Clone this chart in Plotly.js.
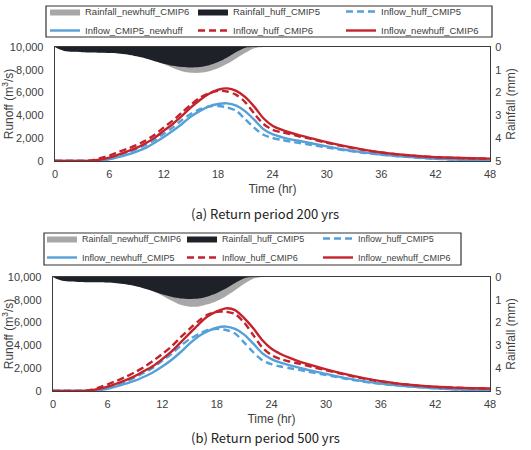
<!DOCTYPE html>
<html>
<head>
<meta charset="utf-8">
<script src="https://cdn.plot.ly/plotly-3.0.1.min.js"></script>
<style>html,body{margin:0;padding:0;background:#fff;}#chart{width:531px;height:450px;}</style>
</head>
<body>
<div id="chart"></div>
<script>
// ---------- data ----------
const flowHours = [0,1,2,3,4,5,6,7,8,9,10,11,12,13,14,15,16,17,18,19,20,21,22,23,24,25,26,27,28,30,32,34,36,38,40,42,44,46,48];
const rainHours = [0,0.5,1,2,3,4,5,6,7,8,9,10,11,12,13,14,15,16,17,18,19,20,21,22,23,24,48];
const xTicks = [0,6,12,18,24,30,36,42,48];
const runoffTicks = [0,2000,4000,6000,8000,10000];
const rainTicks = [0,1,2,3,4,5];

// (a) Return period 200 yrs
const a_rain_newhuff_CMIP6 = [0,0.08,0.14,0.19,0.21,0.22,0.23,0.24,0.26,0.3,0.38,0.47,0.6,0.75,0.92,1.06,1.13,1.13,1.06,0.93,0.74,0.5,0.25,0.05,0,0,0];
const a_rain_huff_CMIP5    = [0,0.1,0.17,0.21,0.23,0.24,0.25,0.26,0.28,0.33,0.41,0.5,0.62,0.73,0.82,0.88,0.9,0.88,0.8,0.66,0.46,0.22,0.03,0,0,0,0];
const a_inflow_huff_CMIP5    = [0,0,0,0,0,100,250,480,760,1050,1400,1850,2400,2950,3600,4150,4550,4780,4820,4700,4400,3650,2900,2300,2020,1850,1700,1580,1450,1180,930,720,550,410,290,190,125,80,50];
const a_inflow_newhuff_CMIP5 = [0,0,0,0,0,40,150,340,560,820,1150,1600,2100,2650,3250,3900,4400,4800,5000,5060,4850,4350,3600,2800,2350,2100,1900,1750,1600,1280,990,760,570,420,300,200,130,80,50];
const a_inflow_huff_CMIP6    = [0,0,0,0,60,250,480,780,1080,1400,1800,2300,2950,3550,4250,4950,5550,5950,6150,6100,5800,5150,4150,3250,2750,2520,2350,2150,1980,1600,1260,970,740,560,430,330,270,230,200];
const a_inflow_newhuff_CMIP6 = [0,0,0,0,30,130,300,550,850,1150,1550,2050,2650,3250,3950,4700,5350,5900,6250,6370,6150,5600,4750,3750,3100,2750,2480,2250,2050,1650,1300,1000,760,580,440,340,280,240,210];

// (b) Return period 500 yrs
const b_rain_newhuff_CMIP6 = [0,0.08,0.13,0.18,0.2,0.21,0.22,0.23,0.25,0.3,0.38,0.48,0.63,0.82,1.03,1.22,1.3,1.29,1.2,1.05,0.84,0.58,0.3,0.08,0,0,0];
const b_rain_huff_CMIP5    = [0,0.1,0.16,0.2,0.22,0.23,0.23,0.24,0.27,0.32,0.4,0.5,0.62,0.76,0.87,0.94,0.96,0.94,0.85,0.7,0.5,0.26,0.05,0,0,0,0];
const b_inflow_huff_CMIP5    = [0,0,0,0,0,120,300,550,850,1200,1600,2050,2650,3250,3950,4550,5000,5350,5450,5350,5050,4250,3400,2700,2350,2150,2000,1850,1700,1400,1100,840,630,470,340,230,150,100,60];
const b_inflow_newhuff_CMIP5 = [0,0,0,0,0,60,200,400,650,900,1250,1650,2150,2720,3400,4150,4800,5250,5550,5650,5450,4950,4150,3300,2800,2480,2250,2050,1850,1500,1150,870,650,480,350,240,160,100,60];
const b_inflow_huff_CMIP6    = [0,0,0,0,80,300,580,900,1250,1650,2100,2650,3250,3900,4700,5450,6150,6700,6950,6950,6750,6000,4900,3800,3150,2800,2580,2400,2200,1820,1450,1110,840,630,470,360,290,240,210];
const b_inflow_newhuff_CMIP6 = [0,0,0,0,40,180,380,650,950,1300,1750,2200,2800,3450,4250,5050,5850,6550,6980,7250,7100,6400,5500,4450,3700,3250,2900,2600,2350,1900,1500,1150,870,650,490,370,300,250,220];

const names_a = ['Rainfall_newhuff_CMIP6','Rainfall_huff_CMIP5','Inflow_huff_CMIP5','Inflow_CMIP5_newhuff','Inflow_huff_CMIP6','Inflow_newhuff_CMIP6'];
const names_b = ['Rainfall_newhuff_CMIP6','Rainfall_huff_CMIP5','Inflow_huff_CMIP5','Inflow_newhuff_CMIP5','Inflow_huff_CMIP6','Inflow_newhuff_CMIP6'];

// ---------- styling ----------
const GRAY = '#a7a7a7', BLACK = '#1e2128', BLUE = '#55a0d8', RED = '#c4232b';
const DASH = '7px,4px';
const LW = 2.4;

// legends: one per column (col1, col2, col3)
function panel(xa, yL, yR, lg, names, rainNew, rainOld, f1, f2, f3, f4) {
  const sp = {shape:'spline', smoothing:0.8};
  return [
    {x: rainHours, y: rainNew, name: names[0], legend: lg[0], type:'scatter', mode:'lines', xaxis: xa, yaxis: yR,
      fill:'tozeroy', fillcolor: GRAY, line:Object.assign({width:0, color: GRAY}, sp), hoverinfo:'skip'},
    {x: rainHours, y: rainOld, name: names[1], legend: lg[1], type:'scatter', mode:'lines', xaxis: xa, yaxis: yR,
      fill:'tozeroy', fillcolor: BLACK, line:Object.assign({width:0, color: BLACK}, sp), hoverinfo:'skip'},
    {x: flowHours, y: f1, name: names[2], legend: lg[2], type:'scatter', mode:'lines', xaxis: xa, yaxis: yL,
      line:Object.assign({color: BLUE, width: LW, dash: DASH}, sp), hoverinfo:'skip'},
    {x: flowHours, y: f2, name: names[3], legend: lg[0], type:'scatter', mode:'lines', xaxis: xa, yaxis: yL,
      line:Object.assign({color: BLUE, width: LW}, sp), hoverinfo:'skip'},
    {x: flowHours, y: f3, name: names[4], legend: lg[1], type:'scatter', mode:'lines', xaxis: xa, yaxis: yL,
      line:Object.assign({color: RED, width: LW, dash: DASH}, sp), hoverinfo:'skip'},
    {x: flowHours, y: f4, name: names[5], legend: lg[2], type:'scatter', mode:'lines', xaxis: xa, yaxis: yL,
      line:Object.assign({color: RED, width: LW}, sp), hoverinfo:'skip'}
  ];
}

const data = [].concat(
  panel('x','y','y2',['legend','legend2','legend3'], names_a, a_rain_newhuff_CMIP6, a_rain_huff_CMIP5,
        a_inflow_huff_CMIP5, a_inflow_newhuff_CMIP5, a_inflow_huff_CMIP6, a_inflow_newhuff_CMIP6),
  panel('x2','y3','y4',['legend4','legend5','legend6'], names_b, b_rain_newhuff_CMIP6, b_rain_huff_CMIP5,
        b_inflow_huff_CMIP5, b_inflow_newhuff_CMIP5, b_inflow_huff_CMIP6, b_inflow_newhuff_CMIP6)
);

const W = 531, H = 450, MT = 14;
const px = p => p / W;                    // pixel x -> paper
const py = p => 1 - (p - MT) / (H - MT);  // pixel y -> paper (top margin MT)
const FONT = 'Liberation Sans, Arial, sans-serif';
const TXT = '#404040';
const FRAME = '#3c3c3c';

function xAxis(dom, anchor) {
  return {domain: dom, anchor: anchor, range:[0,48], tickvals: xTicks, ticktext: xTicks.map(String),
    showgrid:false, zeroline:false, showline:true, mirror:true, linecolor: FRAME, linewidth:1.3,
    ticks:'outside', ticklen:2, tickcolor:'rgba(0,0,0,0)',
    tickfont:{family: FONT, size:11, color: TXT},
    title:{text:'Time (hr)', font:{family: FONT, size:12, color: TXT}, standoff:6}, automargin:false, fixedrange:true};
}
function yLeft(dom, anchor) {
  return {domain: dom, anchor: anchor, range:[0,10000], tickvals: runoffTicks, tickformat:',d',
    showgrid:false, zeroline:false, showline:true, mirror:true, linecolor: FRAME, linewidth:1.3,
    ticks:'outside', ticklen:8, tickcolor:'rgba(0,0,0,0)',
    tickfont:{family: FONT, size:11, color: TXT},
    title:{text:'Runoff (m<sup>3</sup>/s)', font:{family: FONT, size:12, color: TXT}, standoff:2}, automargin:false, fixedrange:true};
}
function yRight(dom, anchor, over) {
  return {domain: dom, anchor: anchor, overlaying: over, side:'right', range:[5,0], tickvals: rainTicks,
    showgrid:false, zeroline:false, showline:false,
    ticks:'outside', ticklen:2, tickcolor:'rgba(0,0,0,0)',
    tickfont:{family: FONT, size:11, color: TXT},
    title:{text:'Rainfall (mm)', font:{family: FONT, size:12, color: TXT}, standoff:6}, automargin:false, fixedrange:true};
}

function legendCfg(xpx, ypx, fs) {
  return {orientation:'v', x: px(xpx), y: py(ypx), xanchor:'left', yanchor:'top', xref:'paper', yref:'paper',
    bgcolor:'rgba(0,0,0,0)', borderwidth:0,
    font:{family: FONT, size:fs, color: TXT},
    itemwidth:30, traceorder:'normal', tracegroupgap:0, itemclick:false, itemdoubleclick:false};
}

const layout = {
  width: W, height: H,
  margin:{l:0, r:0, t:MT, b:0, autoexpand:false},
  paper_bgcolor:'#ffffff', plot_bgcolor:'#ffffff',
  showlegend: true,
  xaxis: xAxis([px(55), px(490)], 'y'),
  yaxis: yLeft([py(161), py(47)], 'x'),
  yaxis2: yRight([py(161), py(47)], 'x', 'y'),
  xaxis2: xAxis([px(53), px(490)], 'y3'),
  yaxis3: yLeft([py(391), py(277)], 'x2'),
  yaxis4: yRight([py(391), py(277)], 'x2', 'y3'),
  legend:  legendCfg(45, -3, 9.5),
  legend2: legendCfg(193, -3, 9.5),
  legend3: legendCfg(341, -3, 9.5),
  legend4: legendCfg(42, 224, 9),
  legend5: legendCfg(182, 224, 9),
  legend6: legendCfg(318, 224, 9),
  shapes: [
    {type:'rect', xref:'paper', yref:'paper', x0:px(46), x1:px(492), y0:py(6), y1:py(37),
     line:{color:'#333333', width:1.2}, fillcolor:'rgba(255,255,255,0)', layer:'above'},
    {type:'rect', xref:'paper', yref:'paper', x0:px(44), x1:px(461), y0:py(233), y1:py(265),
     line:{color:'#333333', width:1.2}, fillcolor:'rgba(255,255,255,0)', layer:'above'}
  ],
  annotations: [
    {text:'(a) Return period 200 yrs', xref:'paper', yref:'paper', x:px(265), y:py(213),
     xanchor:'center', yanchor:'middle', showarrow:false, font:{family:'Noto Sans CJK KR, sans-serif', size:13, color:'#222'}},
    {text:'(b) Return period 500 yrs', xref:'paper', yref:'paper', x:px(265), y:py(449),
     xanchor:'center', yanchor:'bottom', showarrow:false, font:{family:'Noto Sans CJK KR, sans-serif', size:13, color:'#222'}}
  ]
};

Plotly.newPlot('chart', data, layout, {staticPlot:true, displayModeBar:false});
</script>
</body>
</html>
